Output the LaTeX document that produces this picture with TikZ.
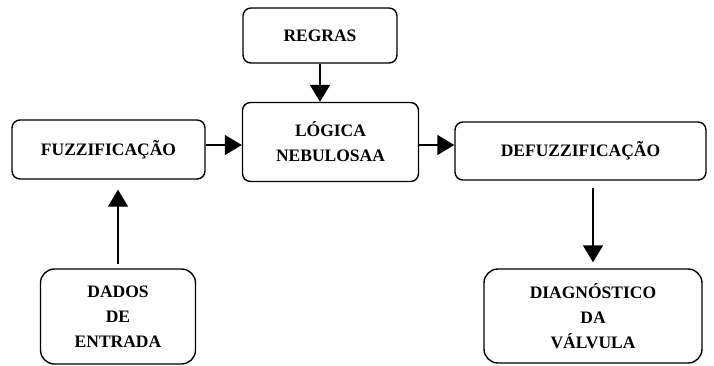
\documentclass[tikz,border=0pt]{standalone}
\usepackage{fontspec}
\setmainfont{Liberation Serif}
\usetikzlibrary{arrows.meta,calc}
\begin{document}
\begin{tikzpicture}[x=1pt,y=-1pt,
  box/.style={draw, line width=1.4pt, rounded corners=8pt, align=center, inner sep=0pt,
    font=\fontsize{17.5}{25}\selectfont\bfseries},
  bigbox/.style={box, rounded corners=14pt},
  arr/.style={line width=1.4pt, -{Triangle[length=17pt,width=20pt]}}]
\useasboundingbox (0,0) rectangle (714,365);
\node[box, minimum width=154pt, minimum height=55pt] (regras) at (320,35.5) {REGRAS};
\node[box, minimum width=176pt, minimum height=79pt] (logica) at (330.5,142) {LÓGICA\\NEBULOSAA};
\node[box, minimum width=193pt, minimum height=59pt] (fuzz) at (108.5,149.5) {FUZZIFICAÇÃO};
\node[box, minimum width=251pt, minimum height=58pt] (defuzz) at (580.5,151) {DEFUZZIFICAÇÃO};
\node[bigbox, minimum width=155pt, minimum height=95pt] (dados) at (118,316.5) {DADOS\\DE\\ENTRADA};
\node[bigbox, minimum width=218pt, minimum height=94pt] (diag) at (593,316) {DIAGNÓSTICO\\DA\\VÁLVULA};
\draw[arr] (regras.south) -- (regras.south |- logica.north);
\draw[arr] (fuzz.east |- 0,145) -- (logica.west |- 0,145);
\draw[arr] (logica.east |- 0,145) -- (defuzz.west |- 0,145);
\draw[arr, shorten <=4pt, shorten >=10pt] (dados.north) -- (dados.north |- fuzz.south);
\draw[arr, shorten <=7pt, shorten >=6pt] (defuzz.south -| diag.north) -- (diag.north);
\end{tikzpicture}
\end{document}
